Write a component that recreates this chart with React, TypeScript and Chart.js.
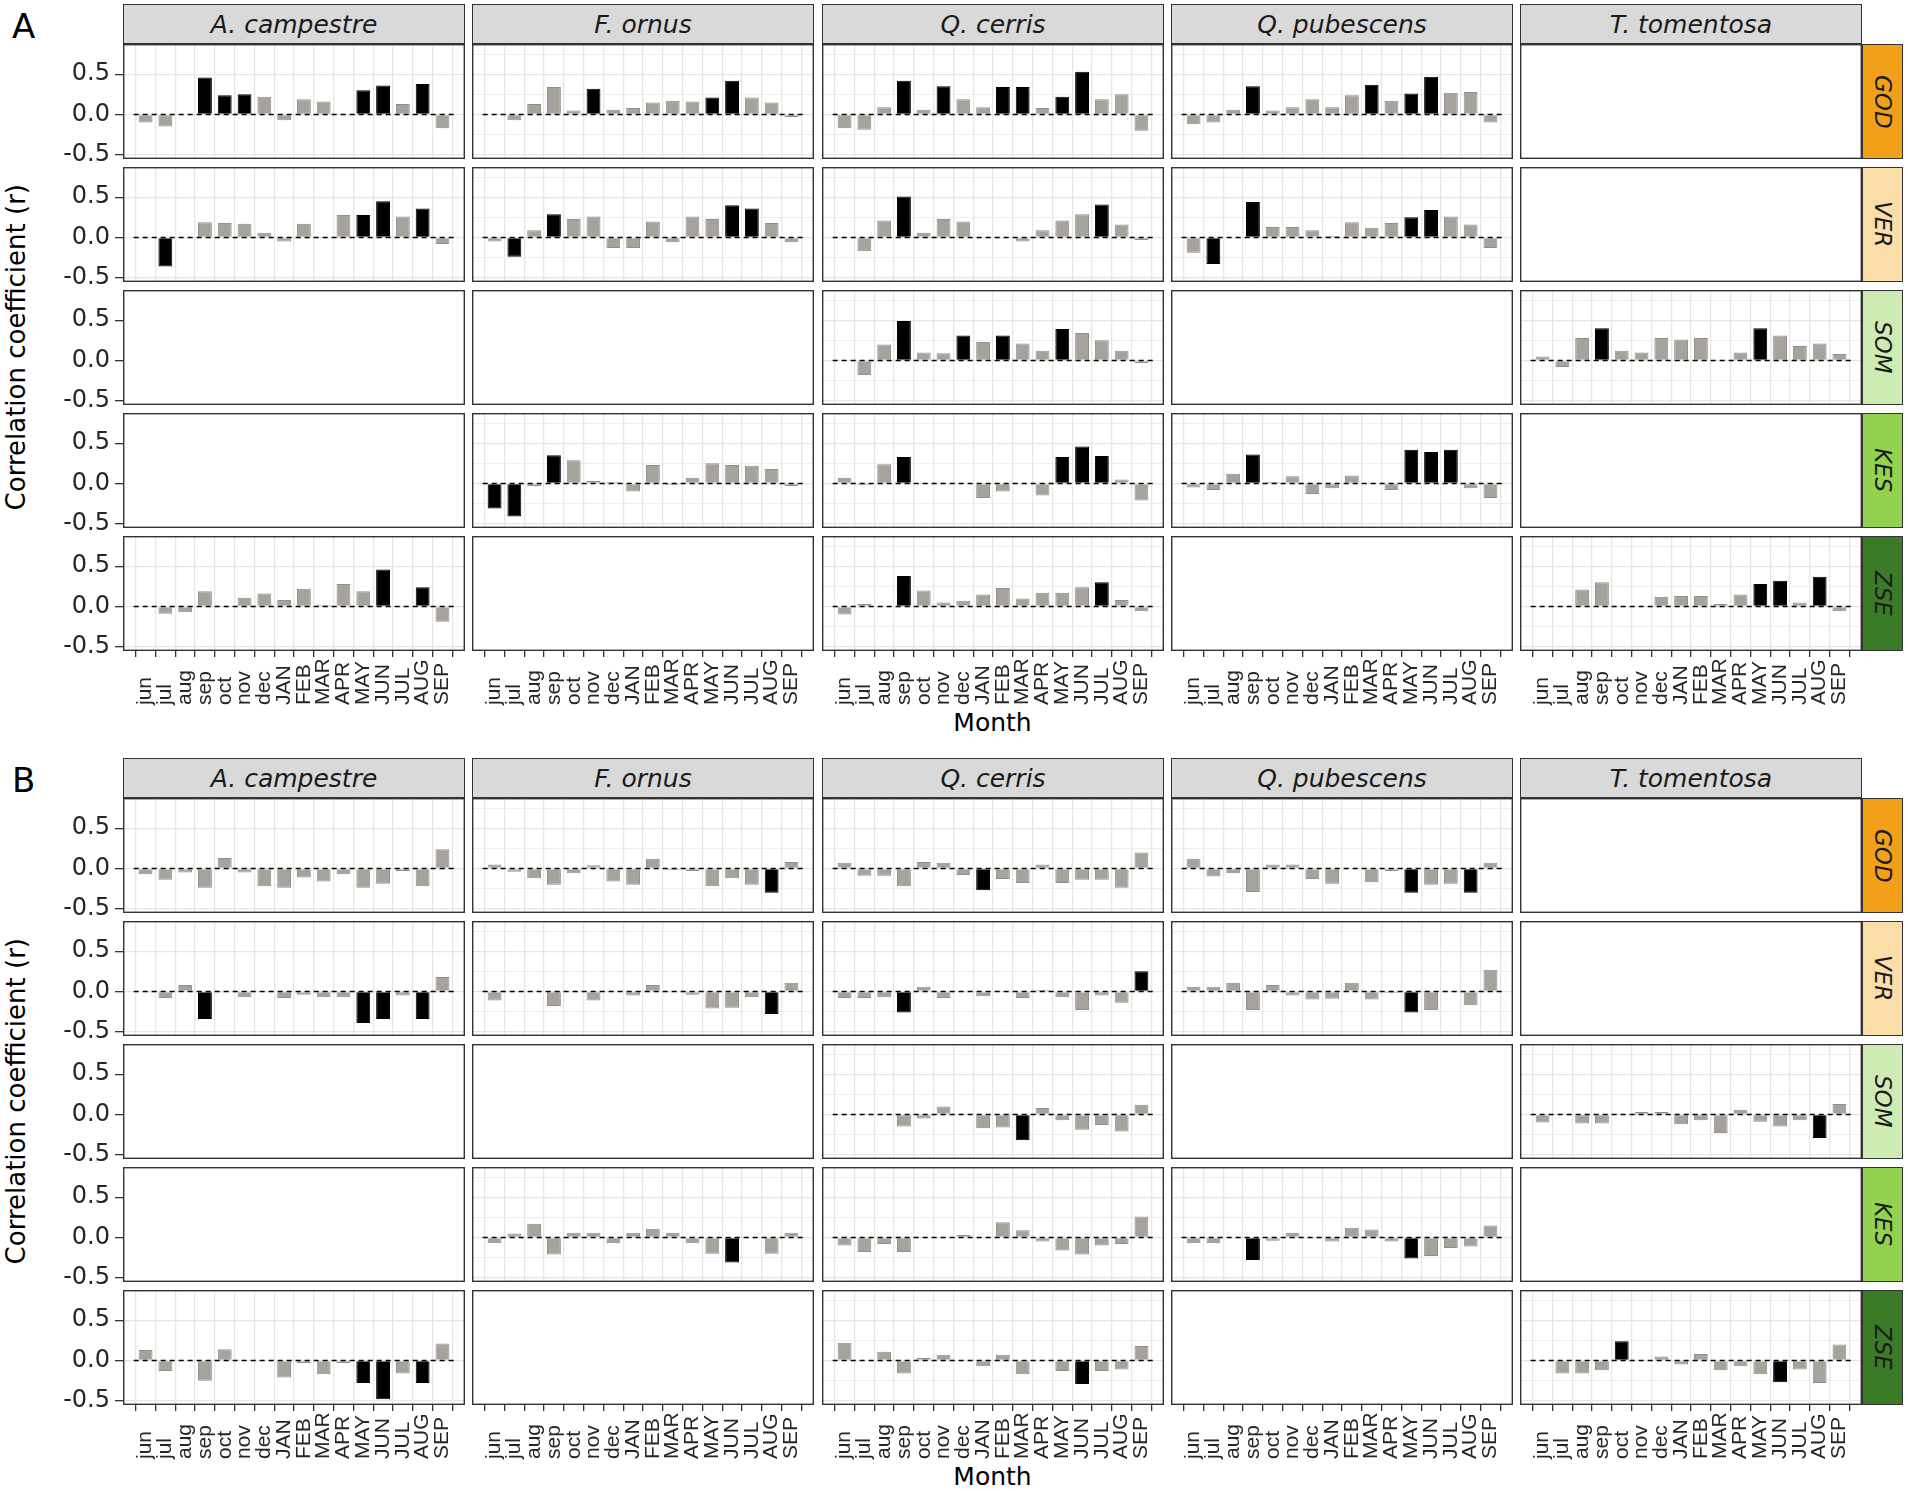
import React, { useEffect, useRef } from 'react';
import { Chart, registerables } from 'chart.js';

Chart.register(...registerables);

// ---------- categories / labels ----------
const months = ['jun', 'jul', 'aug', 'sep', 'oct', 'nov', 'dec', 'JAN', 'FEB', 'MAR', 'APR', 'MAY', 'JUN', 'JUL', 'AUG', 'SEP'];
const species = ['A. campestre', 'F. ornus', 'Q. cerris', 'Q. pubescens', 'T. tomentosa'];
const sites = ['GOD', 'VER', 'SOM', 'KES', 'ZSE'];
const sectionLabels = ['A', 'B'];
const yTickValues = [-0.5, -0.25, 0, 0.25, 0.5, 0.75];
const yMajorTicks = [-0.5, 0, 0.5];
const yTitle = 'Correlation coefficient (r)';
const xTitle = 'Month';

// ---------- section A values (r) and significant months ----------
const A_GOD_Acam = [-0.10, -0.15, 0.01, 0.46, 0.24, 0.25, 0.22, -0.07, 0.19, 0.16, 0.01, 0.30, 0.36, 0.13, 0.38, -0.17];
const A_GOD_Acam_sig = ['sep', 'oct', 'nov', 'MAY', 'JUN', 'AUG'];
const A_GOD_Forn = [-0.01, -0.07, 0.13, 0.34, 0.05, 0.32, 0.06, 0.08, 0.15, 0.17, 0.16, 0.21, 0.42, 0.21, 0.15, -0.03];
const A_GOD_Forn_sig = ['nov', 'MAY', 'JUN'];
const A_GOD_Qcer = [-0.17, -0.19, 0.09, 0.42, 0.06, 0.35, 0.19, 0.09, 0.34, 0.34, 0.08, 0.22, 0.53, 0.19, 0.25, -0.20];
const A_GOD_Qcer_sig = ['sep', 'nov', 'FEB', 'MAR', 'MAY', 'JUN'];
const A_GOD_Qpub = [-0.12, -0.10, 0.06, 0.35, 0.05, 0.09, 0.19, 0.09, 0.24, 0.37, 0.17, 0.26, 0.47, 0.27, 0.28, -0.10];
const A_GOD_Qpub_sig = ['sep', 'MAR', 'MAY', 'JUN'];

const A_VER_Acam = [-0.01, -0.36, 0.0, 0.19, 0.18, 0.17, 0.06, -0.05, 0.17, -0.01, 0.28, 0.28, 0.45, 0.26, 0.36, -0.08];
const A_VER_Acam_sig = ['jul', 'MAY', 'JUN', 'AUG'];
const A_VER_Forn = [-0.05, -0.24, 0.09, 0.29, 0.23, 0.26, -0.13, -0.13, 0.20, -0.06, 0.26, 0.23, 0.40, 0.36, 0.18, -0.06];
const A_VER_Forn_sig = ['jul', 'sep', 'JUN', 'JUL'];
const A_VER_Qcer = [-0.01, -0.17, 0.21, 0.51, 0.06, 0.23, 0.20, 0.0, 0.01, -0.05, 0.09, 0.21, 0.29, 0.41, 0.16, -0.03];
const A_VER_Qcer_sig = ['sep', 'JUL'];
const A_VER_Qpub = [-0.19, -0.33, 0.01, 0.44, 0.13, 0.13, 0.09, 0.02, 0.19, 0.12, 0.18, 0.25, 0.34, 0.26, 0.16, -0.13];
const A_VER_Qpub_sig = ['jul', 'sep', 'MAY', 'JUN'];

const A_SOM_Qcer = [0.01, -0.18, 0.20, 0.49, 0.10, 0.09, 0.31, 0.23, 0.31, 0.21, 0.12, 0.39, 0.34, 0.25, 0.12, -0.03];
const A_SOM_Qcer_sig = ['sep', 'dec', 'FEB', 'MAY'];
const A_SOM_Ttom = [0.05, -0.08, 0.28, 0.40, 0.12, 0.10, 0.28, 0.26, 0.28, -0.01, 0.10, 0.40, 0.31, 0.18, 0.21, 0.08];
const A_SOM_Ttom_sig = ['sep', 'MAY'];

const A_KES_Forn = [-0.31, -0.41, -0.03, 0.35, 0.29, 0.03, 0.02, -0.10, 0.23, -0.02, 0.07, 0.25, 0.23, 0.22, 0.18, -0.03];
const A_KES_Forn_sig = ['jun', 'jul', 'sep'];
const A_KES_Qcer = [0.07, -0.02, 0.24, 0.33, -0.01, -0.01, 0.01, -0.18, -0.10, -0.01, -0.15, 0.33, 0.46, 0.34, 0.05, -0.21];
const A_KES_Qcer_sig = ['sep', 'MAY', 'JUN', 'JUL'];
const A_KES_Qpub = [-0.05, -0.08, 0.12, 0.36, 0.02, 0.09, -0.13, -0.06, 0.10, 0.0, -0.08, 0.42, 0.39, 0.42, -0.06, -0.18];
const A_KES_Qpub_sig = ['sep', 'MAY', 'JUN', 'JUL'];

const A_ZSE_Acam = [-0.01, -0.09, -0.07, 0.19, -0.01, 0.11, 0.16, 0.08, 0.22, 0.02, 0.28, 0.19, 0.46, 0.01, 0.24, -0.19];
const A_ZSE_Acam_sig = ['JUN', 'AUG'];
const A_ZSE_Qcer = [-0.10, 0.03, 0.0, 0.38, 0.20, 0.05, 0.07, 0.15, 0.23, 0.10, 0.17, 0.17, 0.24, 0.30, 0.08, -0.06];
const A_ZSE_Qcer_sig = ['sep', 'JUL'];
const A_ZSE_Ttom = [0.0, -0.01, 0.21, 0.30, 0.0, 0.01, 0.12, 0.13, 0.13, 0.03, 0.15, 0.28, 0.32, 0.05, 0.37, -0.06];
const A_ZSE_Ttom_sig = ['MAY', 'JUN', 'AUG'];

// ---------- section B values (r) and significant months ----------
const B_GOD_Acam = [-0.07, -0.14, -0.05, -0.24, 0.13, -0.05, -0.22, -0.24, -0.11, -0.16, -0.07, -0.24, -0.19, -0.03, -0.22, 0.24];
const B_GOD_Acam_sig: string[] = [];
const B_GOD_Forn = [0.05, -0.04, -0.12, -0.20, -0.06, 0.04, -0.16, -0.20, 0.12, -0.02, -0.03, -0.22, -0.12, -0.20, -0.30, 0.08];
const B_GOD_Forn_sig = ['AUG'];
const B_GOD_Qcer = [0.07, -0.09, -0.09, -0.22, 0.08, 0.07, -0.08, -0.27, -0.13, -0.18, 0.05, -0.18, -0.14, -0.14, -0.24, 0.20];
const B_GOD_Qcer_sig = ['JAN'];
const B_GOD_Qpub = [0.12, -0.10, -0.06, -0.29, 0.05, 0.05, -0.13, -0.19, 0.0, -0.17, -0.03, -0.30, -0.20, -0.19, -0.30, 0.07];
const B_GOD_Qpub_sig = ['MAY', 'AUG'];

const B_VER_Acam = [-0.01, -0.08, 0.08, -0.34, -0.01, -0.07, 0.01, -0.08, -0.04, -0.07, -0.07, -0.39, -0.34, -0.05, -0.34, 0.18];
const B_VER_Acam_sig = ['sep', 'MAY', 'JUN', 'AUG'];
const B_VER_Forn = [-0.11, -0.01, -0.01, -0.18, 0.0, -0.11, -0.01, -0.05, 0.08, 0.0, -0.04, -0.21, -0.20, -0.07, -0.28, 0.11];
const B_VER_Forn_sig = ['AUG'];
const B_VER_Qcer = [-0.08, -0.08, -0.07, -0.26, 0.06, -0.08, -0.01, -0.06, 0.0, -0.08, 0.02, -0.07, -0.23, -0.05, -0.14, 0.25];
const B_VER_Qcer_sig = ['sep', 'SEP'];
const B_VER_Qpub = [0.06, 0.06, 0.11, -0.23, 0.08, -0.05, -0.10, -0.09, 0.11, -0.10, -0.02, -0.26, -0.23, 0.0, -0.17, 0.27];
const B_VER_Qpub_sig = ['MAY'];

const B_SOM_Qcer = [0.0, 0.0, -0.01, -0.15, -0.05, 0.10, -0.01, -0.17, -0.16, -0.32, 0.08, -0.07, -0.19, -0.13, -0.21, 0.12];
const B_SOM_Qcer_sig = ['MAR'];
const B_SOM_Ttom = [-0.10, 0.0, -0.11, -0.11, 0.0, 0.03, 0.03, -0.12, -0.07, -0.23, 0.06, -0.09, -0.15, -0.07, -0.29, 0.13];
const B_SOM_Ttom_sig = ['AUG'];

const B_KES_Forn = [-0.07, 0.05, 0.17, -0.21, 0.06, 0.06, -0.07, 0.06, 0.11, 0.06, -0.07, -0.20, -0.31, 0.0, -0.20, 0.06];
const B_KES_Forn_sig = ['JUN'];
const B_KES_Qcer = [-0.10, -0.18, -0.08, -0.18, -0.01, -0.01, 0.03, 0.0, 0.19, 0.09, -0.05, -0.16, -0.21, -0.10, -0.08, 0.26];
const B_KES_Qcer_sig: string[] = [];
const B_KES_Qpub = [-0.07, -0.07, -0.01, -0.28, -0.04, 0.06, 0.0, -0.05, 0.12, 0.10, -0.05, -0.26, -0.23, -0.13, -0.11, 0.15];
const B_KES_Qpub_sig = ['sep', 'MAY'];

const B_ZSE_Acam = [0.13, -0.13, 0.01, -0.25, 0.14, 0.0, 0.01, -0.21, -0.03, -0.17, -0.03, -0.28, -0.48, -0.16, -0.28, 0.21];
const B_ZSE_Acam_sig = ['MAY', 'JUN', 'AUG'];
const B_ZSE_Qcer = [0.22, 0.0, 0.11, -0.16, 0.03, 0.07, 0.0, -0.07, 0.07, -0.17, 0.0, -0.13, -0.29, -0.13, -0.11, 0.18];
const B_ZSE_Qcer_sig = ['JUN'];
const B_ZSE_Ttom = [0.0, -0.16, -0.16, -0.12, 0.24, 0.0, 0.05, -0.05, 0.08, -0.12, -0.07, -0.17, -0.27, -0.11, -0.28, 0.20];
const B_ZSE_Ttom_sig = ['oct', 'JUN'];

type Cell = { values: number[]; sig: string[] } | null;
const cell = (values: number[], sig: string[]): Cell => ({ values, sig });

// rows = sites, cols = species
const sectionAPanels: Cell[][] = [
  [cell(A_GOD_Acam, A_GOD_Acam_sig), cell(A_GOD_Forn, A_GOD_Forn_sig), cell(A_GOD_Qcer, A_GOD_Qcer_sig), cell(A_GOD_Qpub, A_GOD_Qpub_sig), null],
  [cell(A_VER_Acam, A_VER_Acam_sig), cell(A_VER_Forn, A_VER_Forn_sig), cell(A_VER_Qcer, A_VER_Qcer_sig), cell(A_VER_Qpub, A_VER_Qpub_sig), null],
  [null, null, cell(A_SOM_Qcer, A_SOM_Qcer_sig), null, cell(A_SOM_Ttom, A_SOM_Ttom_sig)],
  [null, cell(A_KES_Forn, A_KES_Forn_sig), cell(A_KES_Qcer, A_KES_Qcer_sig), cell(A_KES_Qpub, A_KES_Qpub_sig), null],
  [cell(A_ZSE_Acam, A_ZSE_Acam_sig), null, cell(A_ZSE_Qcer, A_ZSE_Qcer_sig), null, cell(A_ZSE_Ttom, A_ZSE_Ttom_sig)],
];
const sectionBPanels: Cell[][] = [
  [cell(B_GOD_Acam, B_GOD_Acam_sig), cell(B_GOD_Forn, B_GOD_Forn_sig), cell(B_GOD_Qcer, B_GOD_Qcer_sig), cell(B_GOD_Qpub, B_GOD_Qpub_sig), null],
  [cell(B_VER_Acam, B_VER_Acam_sig), cell(B_VER_Forn, B_VER_Forn_sig), cell(B_VER_Qcer, B_VER_Qcer_sig), cell(B_VER_Qpub, B_VER_Qpub_sig), null],
  [null, null, cell(B_SOM_Qcer, B_SOM_Qcer_sig), null, cell(B_SOM_Ttom, B_SOM_Ttom_sig)],
  [null, cell(B_KES_Forn, B_KES_Forn_sig), cell(B_KES_Qcer, B_KES_Qcer_sig), cell(B_KES_Qpub, B_KES_Qpub_sig), null],
  [cell(B_ZSE_Acam, B_ZSE_Acam_sig), null, cell(B_ZSE_Qcer, B_ZSE_Qcer_sig), null, cell(B_ZSE_Ttom, B_ZSE_Ttom_sig)],
];
const sections = [sectionAPanels, sectionBPanels];

// ---------- styles / layout ----------
const siteColors = ['#F2A01A', '#FADDA9', '#CDEBB2', '#93D151', '#3B7A26'];
const GRAY_BAR = '#A6A39C';
const GRAY_BAR_BORDER = '#918F89';
const GRID = '#E6E6E6';
const FRAME = '#333333';
const TICK_TEXT = '#262626';
const SANS = '"DejaVu Sans", "Liberation Sans", sans-serif';
const ARIAL = '"Liberation Sans", Arial, sans-serif';

const COL_X = [123, 472, 822, 1171, 1520];
const PANEL_W = 342;
const ROW_Y = [44, 167, 290, 413, 536];
const PANEL_H = 115;
const SECTION_TOP = [0, 754];
const Y_PAD = 83;
const X_PAD = 62;
const V_MARGIN = 16;
const X_MIN = 0.4;
const X_MAX = 16.6;
const Y_MIN = -0.552;
const Y_MAX = 0.875;

const framePlugin = {
  id: 'panelFrame',
  afterDraw(chart: any) {
    const { ctx, chartArea: a } = chart;
    ctx.save();
    ctx.strokeStyle = FRAME;
    ctx.lineWidth = 1.4;
    ctx.strokeRect(a.left + 0.7, a.top + 0.7, a.width - 1.4, a.height - 1.4);
    ctx.restore();
  },
};

const monthLabelPlugin = {
  id: 'monthLabels',
  afterDraw(chart: any) {
    const { ctx, chartArea, scales } = chart;
    const xs = scales.x;
    ctx.save();
    ctx.font = `21px ${ARIAL}`;
    ctx.fillStyle = TICK_TEXT;
    ctx.textAlign = 'left';
    ctx.textBaseline = 'middle';
    months.forEach((m, i) => {
      const px = xs.getPixelForValue(i + 1);
      ctx.save();
      ctx.translate(px, chartArea.bottom + 54);
      ctx.rotate(-Math.PI / 2);
      ctx.fillText(m, 0, 0);
      ctx.restore();
    });
    ctx.restore();
  },
};

function Panel({ left, top, data, showY, showX }: { left: number; top: number; data: Cell; showY: boolean; showX: boolean }) {
  const ref = useRef<HTMLCanvasElement>(null);
  const padL = showY ? Y_PAD : 0;
  const padB = showX ? X_PAD : 0;
  const mTop = showY ? V_MARGIN : 0;
  const mBottom = showY && !showX ? V_MARGIN : 0;
  const w = PANEL_W + padL;
  const h = PANEL_H + padB + mTop + mBottom;

  useEffect(() => {
    const canvas = ref.current;
    if (!canvas) return;
    const datasets: any[] = [];
    if (data) {
      datasets.push({
        type: 'line',
        data: [{ x: X_MIN, y: 0 }, { x: X_MAX, y: 0 }],
        borderColor: '#000000',
        borderWidth: 1.3,
        borderDash: [5, 4],
        pointRadius: 0,
        order: 0,
      });
      datasets.push({
        type: 'bar',
        data: data.values.map((v, i) => ({ x: i + 1, y: v })),
        backgroundColor: data.values.map((_, i) => (data.sig.includes(months[i]) ? '#000000' : GRAY_BAR)),
        borderColor: data.values.map((_, i) => (data.sig.includes(months[i]) ? '#000000' : GRAY_BAR_BORDER)),
        borderWidth: 1,
        barPercentage: 0.7,
        categoryPercentage: 1,
        order: 1,
      });
    }
    const isMajor = (v: number) => yMajorTicks.some((m) => Math.abs(m - v) < 1e-9);
    const plugins: any[] = [framePlugin];
    if (showX) plugins.push(monthLabelPlugin);
    const chart = new Chart(canvas, {
      type: 'bar',
      data: { datasets },
      plugins,
      options: {
        animation: false,
        responsive: false,
        devicePixelRatio: 1,
        layout: { padding: { top: mTop, bottom: mBottom, left: 0, right: 0 } },
        plugins: { legend: { display: false }, tooltip: { enabled: false } },
        scales: {
          x: {
            type: 'linear',
            position: 'bottom',
            min: X_MIN,
            max: X_MAX,
            afterBuildTicks: (s: any) => {
              s.ticks = months.map((_, i) => ({ value: i + 1 }));
            },
            afterFit: (s: any) => {
              s.height = padB;
              s.paddingLeft = 0;
              s.paddingRight = 0;
            },
            ticks: { display: false },
            grid: {
              display: true,
              drawOnChartArea: !!data,
              color: GRID,
              lineWidth: 1.3,
              drawTicks: showX,
              tickLength: 6,
              tickColor: FRAME,
              tickWidth: 1.3,
            },
            border: { display: false },
          },
          y: {
            type: 'linear',
            position: 'left',
            min: Y_MIN,
            max: Y_MAX,
            afterBuildTicks: (s: any) => {
              s.ticks = yTickValues.map((v) => ({ value: v }));
            },
            afterFit: (s: any) => {
              s.width = padL;
              s.paddingTop = 0;
              s.paddingBottom = 0;
            },
            ticks: {
              display: showY,
              padding: 5,
              color: TICK_TEXT,
              font: { family: SANS, size: 24 },
              callback: (v: any) => (isMajor(Number(v)) ? Number(v).toFixed(1) : ''),
            },
            grid: {
              display: true,
              drawOnChartArea: !!data,
              color: GRID,
              lineWidth: (c: any) => (c.tick && isMajor(c.tick.value) ? 1.3 : 0.7),
              drawTicks: showY,
              tickLength: 8,
              tickColor: (c: any) => (c.tick && isMajor(c.tick.value) ? FRAME : 'rgba(0,0,0,0)'),
              tickWidth: 1.3,
            },
            border: { display: false },
          },
        },
      } as any,
    });
    return () => chart.destroy();
  }, []);

  return (
    <canvas
      ref={ref}
      width={w}
      height={h}
      style={{ position: 'absolute', left: left - padL, top: top - mTop, width: w, height: h }}
    />
  );
}

function Section({ index }: { index: number }) {
  const top0 = SECTION_TOP[index];
  const panels = sections[index];
  const panelsTop = top0 + ROW_Y[0];
  const panelsBottom = top0 + ROW_Y[4] + PANEL_H;
  return (
    <>
      <div
        style={{
          position: 'absolute', left: 12, top: top0 + 9, fontFamily: SANS, fontSize: 34, lineHeight: '34px', color: '#000',
        }}
      >
        {sectionLabels[index]}
      </div>
      <div
        style={{
          position: 'absolute', left: 0, top: panelsTop, width: 32, height: panelsBottom - panelsTop,
          display: 'flex', alignItems: 'center', justifyContent: 'center',
        }}
      >
        <span
          style={{
            writingMode: 'vertical-rl', transform: 'rotate(180deg)', whiteSpace: 'nowrap',
            fontFamily: SANS, fontSize: 26, color: '#000',
          }}
        >
          {yTitle}
        </span>
      </div>
      <div
        style={{
          position: 'absolute', left: COL_X[0], width: COL_X[4] + PANEL_W - COL_X[0], top: top0 + 706,
          textAlign: 'center', fontFamily: SANS, fontSize: 25, lineHeight: '34px', color: '#000',
        }}
      >
        {xTitle}
      </div>
      {panels.map((row, r) =>
        row.map((d, c) => (
          <Panel
            key={`p-${r}-${c}`}
            left={COL_X[c]}
            top={top0 + ROW_Y[r]}
            data={d}
            showY={c === 0}
            showX={r === sites.length - 1}
          />
        ))
      )}
      {species.map((sp, c) => (
        <div
          key={`strip-${c}`}
          style={{
            position: 'absolute', left: COL_X[c], top: top0 + 4, width: PANEL_W, height: ROW_Y[0] - 4,
            boxSizing: 'border-box', border: `1.3px solid ${FRAME}`, background: '#D9D9D9',
            display: 'flex', alignItems: 'center', justifyContent: 'center',
            fontFamily: SANS, fontStyle: 'italic', fontSize: 25, color: '#1A1A1A',
          }}
        >
          {sp}
        </div>
      ))}
      {sites.map((site, r) => (
        <div
          key={`rstrip-${r}`}
          style={{
            position: 'absolute', left: COL_X[4] + PANEL_W, top: top0 + ROW_Y[r], width: 41, height: PANEL_H,
            boxSizing: 'border-box', border: `1.3px solid ${FRAME}`, background: siteColors[r],
            display: 'flex', alignItems: 'center', justifyContent: 'center',
          }}
        >
          <span
            style={{
              writingMode: 'vertical-rl', whiteSpace: 'nowrap', fontFamily: SANS, fontStyle: 'italic',
              fontSize: 23, color: '#1A1A1A',
            }}
          >
            {site}
          </span>
        </div>
      ))}
    </>
  );
}

export default function App() {
  return (
    <div
      style={{
        position: 'absolute', left: 0, top: 0, width: 1908, height: 1491, background: '#FFFFFF', overflow: 'hidden',
      }}
    >
      <Section index={0} />
      <Section index={1} />
    </div>
  );
}
